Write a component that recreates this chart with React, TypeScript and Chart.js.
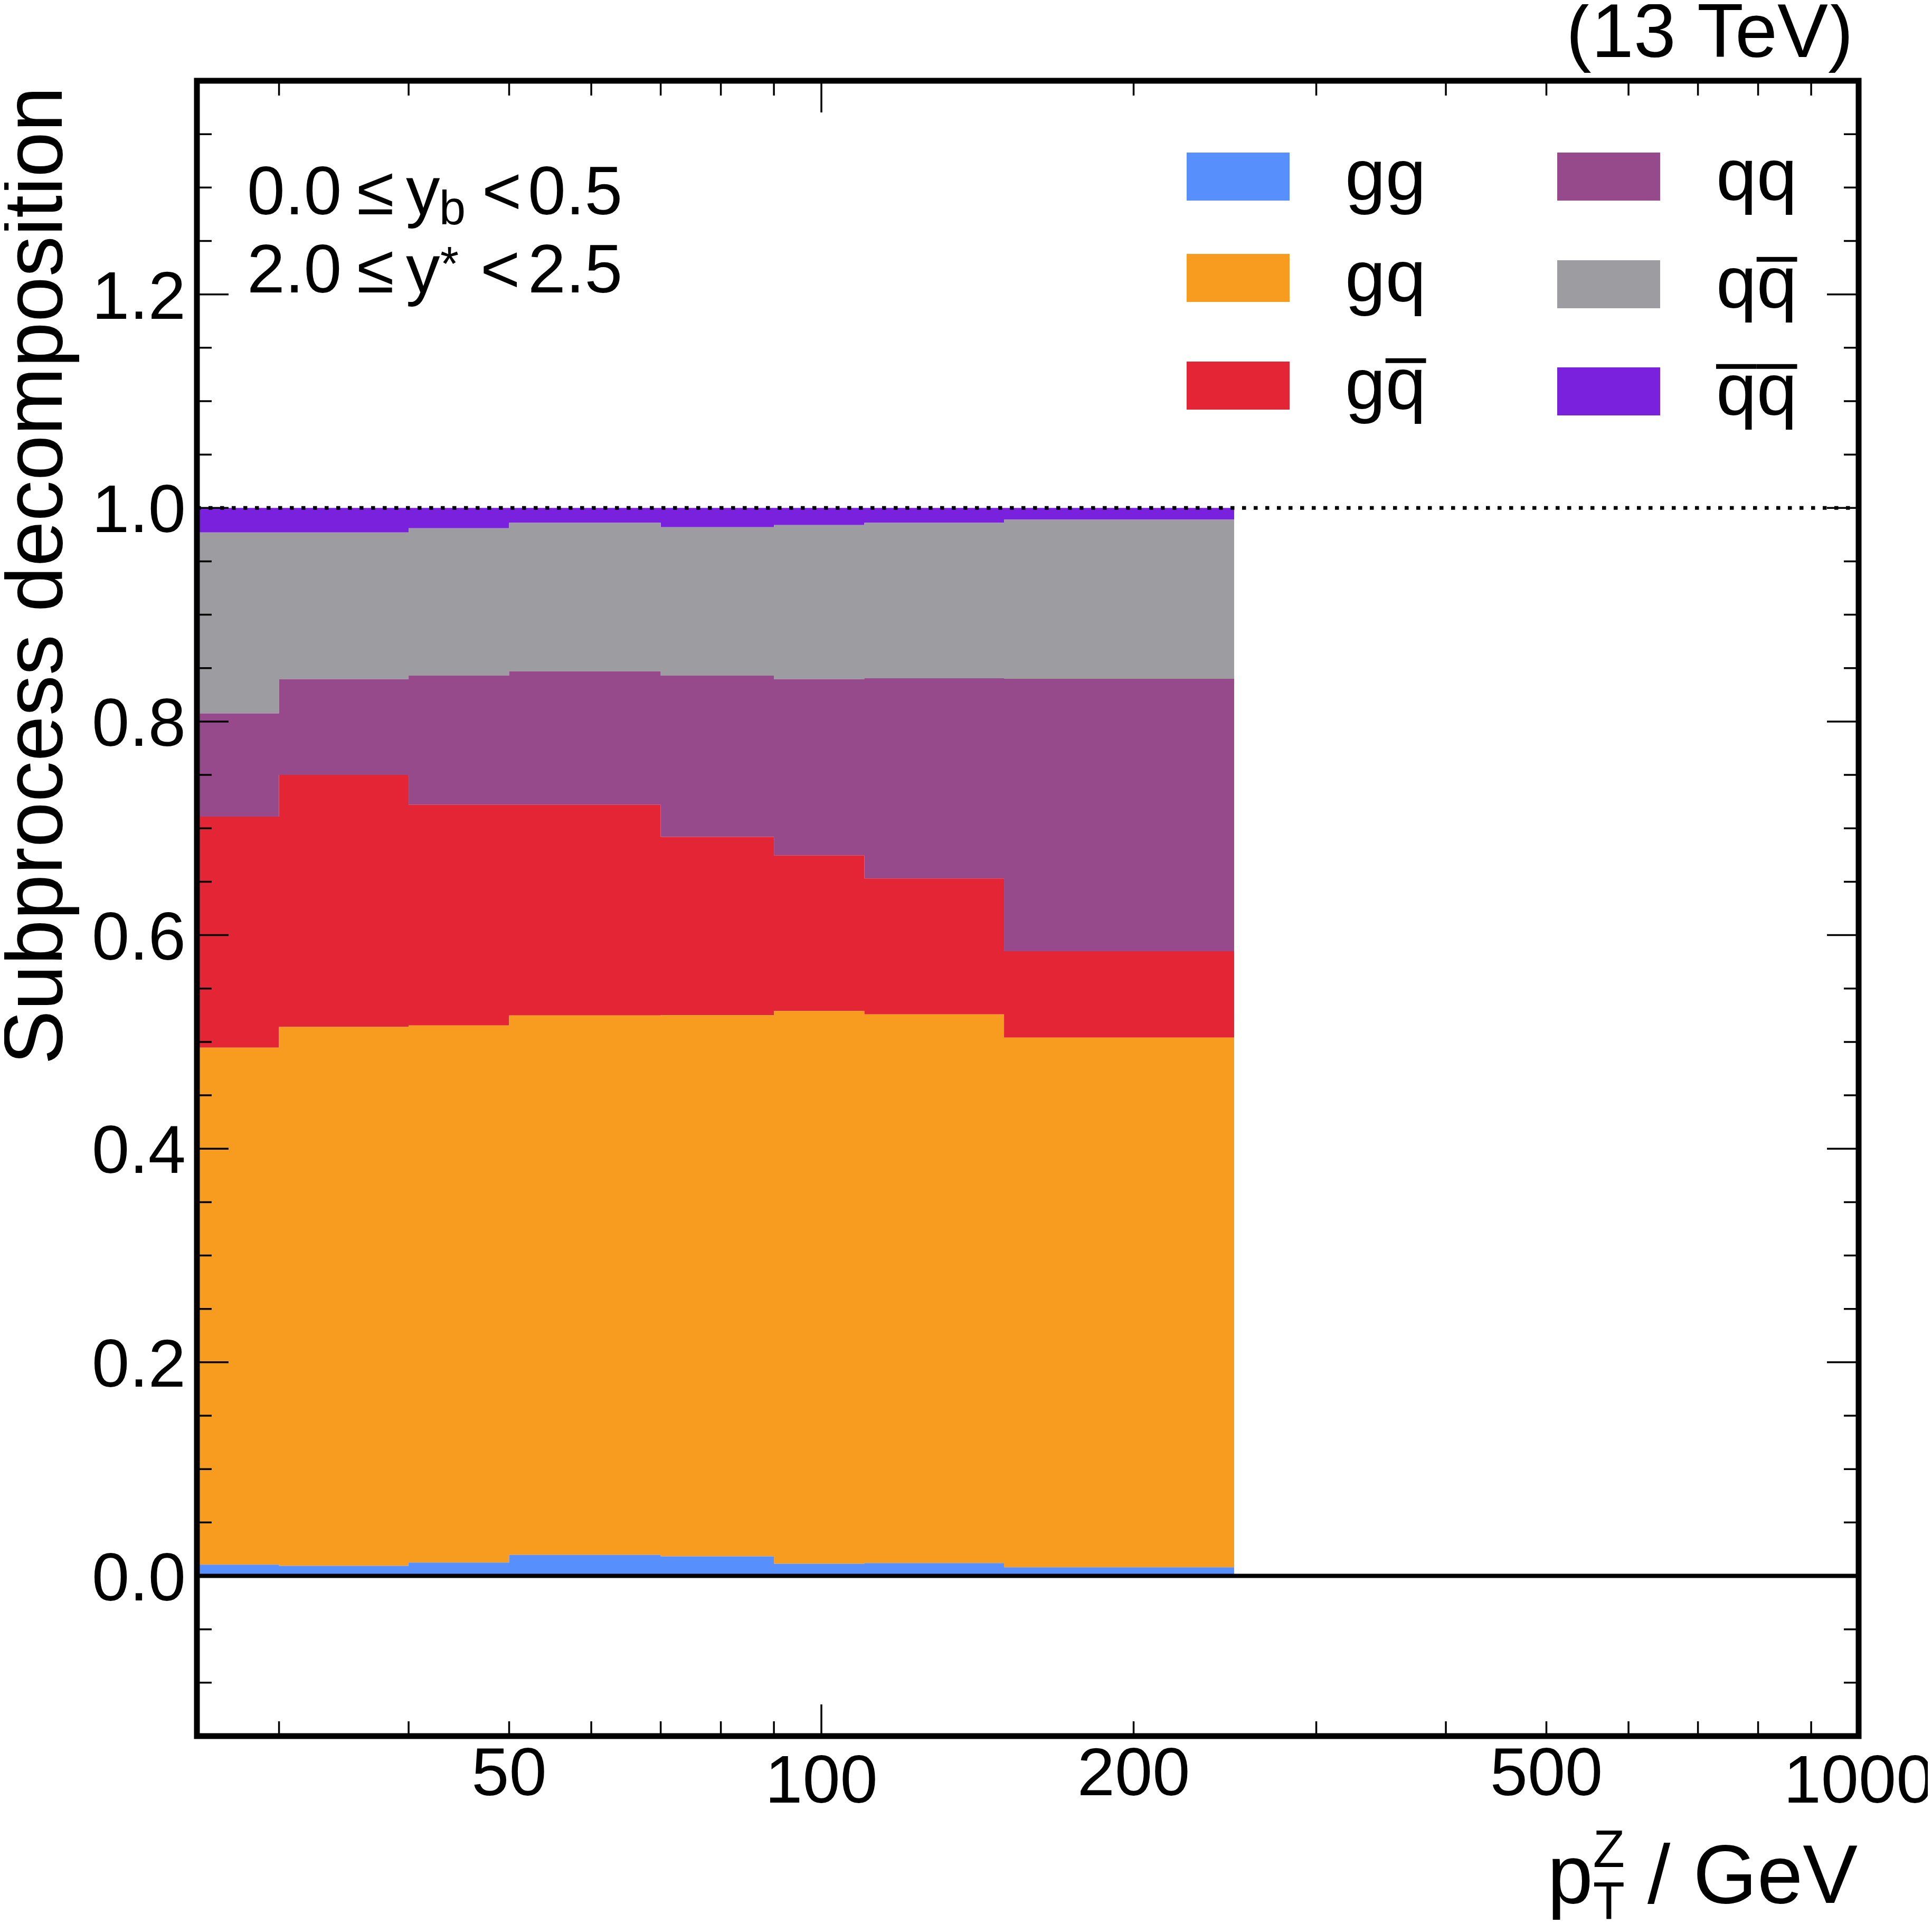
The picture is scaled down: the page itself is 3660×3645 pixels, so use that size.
import React, { useEffect, useRef } from 'react';
import { Chart, registerables } from 'chart.js';

Chart.register(...registerables);

// bin edges of p_T^Z in GeV (8 bins)
const binEdges = [25, 30, 40, 50, 70, 90, 110, 150, 250];

// subprocess fractions per bin (stacked bottom to top)
const ggValues = [0.0105, 0.0094, 0.0125, 0.0196, 0.0183, 0.0114, 0.0120, 0.0081];
const gqValues = [0.4841, 0.5046, 0.5029, 0.5052, 0.5067, 0.5176, 0.5138, 0.4959];
const gqbarValues = [0.2164, 0.2360, 0.2066, 0.1972, 0.1670, 0.1455, 0.1272, 0.0810];
const qqValues = [0.0966, 0.0895, 0.1210, 0.1250, 0.1510, 0.1650, 0.1875, 0.2550];
const qqbarValues = [0.1694, 0.1375, 0.1380, 0.1390, 0.1390, 0.1445, 0.1455, 0.1490];
const qbarqbarValues = [0.0230, 0.0230, 0.0190, 0.0140, 0.0180, 0.0160, 0.0140, 0.0110];

const seriesLabels = ['gg', 'gq', 'gq\u0305', 'qq', 'qq\u0305', 'q\u0305q\u0305'];
const seriesColors = ['#5790fc', '#f89c20', '#e42536', '#964a8b', '#9c9ca1', '#7a21dd'];

const yTickLabels = ['0.0', '0.2', '0.4', '0.6', '0.8', '1.0', '1.2'];
const xTickLabels = ['50', '100', '200', '500', '1000'];
const xMinorTicks = [30, 40, 50, 60, 70, 80, 90, 200, 300, 400, 500, 600, 700, 800, 900];
const xMajorTicks = [100, 1000];

const FONT = '"Liberation Sans", Arial, Helvetica, sans-serif';

function toSteps(values: number[]) {
    // last value repeated at the upper edge so the step closes the final bin
    return binEdges.map((edge, i) => ({ x: edge, y: values[Math.min(i, values.length - 1)] }));
}

function font(size: number) {
    return `${size}px ${FONT}`;
}

// text pieces placed at an x offset from the line start
type Piece = { text: string; size: number; at: number; dy?: number };

function drawPieces(ctx: CanvasRenderingContext2D, pieces: Piece[], x: number, y: number) {
    for (const p of pieces) {
        ctx.font = font(p.size);
        ctx.fillText(p.text, x + p.at, y + (p.dy || 0));
    }
}

function drawOverlined(ctx: CanvasRenderingContext2D, label: string, x: number, baseline: number, size: number) {
    ctx.font = font(size);
    const chars = Array.from(label);
    let cx = x;
    for (let i = 0; i < chars.length; i++) {
        const c = chars[i];
        if (c === '\u0305') continue;
        const w = ctx.measureText(c).width;
        ctx.fillText(c, cx, baseline);
        if (chars[i + 1] === '\u0305') {
            ctx.fillRect(cx, baseline - 0.69 * size, w, 9);
        }
        cx += w;
    }
}

const decorations = {
    id: 'decorations',
    afterDraw(chart: Chart) {
        const ctx = chart.ctx;
        const { left, right, top, bottom } = chart.chartArea;
        const xs = chart.scales.x;
        const ys = chart.scales.y;
        ctx.save();
        ctx.fillStyle = '#000';
        ctx.strokeStyle = '#000';

        // dotted line at unity
        const y1 = ys.getPixelForValue(1);
        ctx.setLineDash([7.5, 14.5]);
        ctx.lineWidth = 7;
        ctx.beginPath();
        ctx.moveTo(left, y1);
        ctx.lineTo(right, y1);
        ctx.stroke();
        ctx.setLineDash([]);

        // zero line
        const y0 = ys.getPixelForValue(0);
        ctx.lineWidth = 8;
        ctx.beginPath();
        ctx.moveTo(left, y0);
        ctx.lineTo(right, y0);
        ctx.stroke();

        // inward ticks on all four sides
        ctx.lineWidth = 3.5;
        ctx.beginPath();
        const xTick = (v: number, len: number) => {
            const px = xs.getPixelForValue(v);
            ctx.moveTo(px, bottom);
            ctx.lineTo(px, bottom - len);
            ctx.moveTo(px, top);
            ctx.lineTo(px, top + len);
        };
        xMinorTicks.forEach(v => xTick(v, 28));
        xMajorTicks.forEach(v => xTick(v, 60));
        for (let k = -2; k <= 27; k++) {
            const py = ys.getPixelForValue(k * 0.05);
            const len = k % 4 === 0 ? 60 : 28;
            ctx.moveTo(left, py);
            ctx.lineTo(left + len, py);
            ctx.moveTo(right, py);
            ctx.lineTo(right - len, py);
        }
        ctx.stroke();

        // frame
        ctx.lineWidth = 11;
        ctx.strokeRect(left, top, right - left, bottom - top);

        // tick labels
        ctx.font = font(128);
        ctx.textBaseline = 'alphabetic';
        ctx.textAlign = 'right';
        yTickLabels.forEach(t => {
            ctx.fillText(t, left - 21, ys.getPixelForValue(parseFloat(t)) + 46);
        });
        ctx.textAlign = 'center';
        xTickLabels.forEach(t => {
            const v = parseFloat(t);
            const decade = Math.abs(Math.log10(v) - Math.round(Math.log10(v))) < 1e-9;
            ctx.fillText(t, xs.getPixelForValue(v), bottom + (decade ? 126 : 112));
        });

        // y axis title, right aligned to the top of the frame
        ctx.save();
        ctx.translate(left - 256, top + 11);
        ctx.rotate(-Math.PI / 2);
        ctx.font = font(158);
        const yTitle = 'Subprocess decomposition';
        const sy = 1853 / ctx.measureText(yTitle).width;
        ctx.scale(sy, 1);
        ctx.textAlign = 'right';
        ctx.fillText(yTitle, 0, 0);
        ctx.restore();

        // x axis title: p_T^Z / GeV, right aligned
        ctx.textAlign = 'left';
        ctx.save();
        const xBase = bottom + 316;
        ctx.font = font(158);
        const wp = ctx.measureText('p').width;
        const wRest = ctx.measureText(' / GeV').width;
        ctx.font = font(100);
        const wSub = Math.max(ctx.measureText('T').width, ctx.measureText('Z').width);
        const total = wp + wSub + wRest;
        ctx.translate(right - 2, xBase);
        ctx.scale(0.985, 1);
        const x0 = -total;
        ctx.font = font(158);
        ctx.fillText('p', x0, 0);
        ctx.font = font(100);
        ctx.fillText('T', x0 + wp, 30);
        ctx.fillText('Z', x0 + wp, -68);
        ctx.font = font(158);
        ctx.fillText(' / GeV', x0 + wp + wSub, 0);
        ctx.restore();

        // energy label
        ctx.font = font(144);
        ctx.textAlign = 'right';
        ctx.fillText('(13 TeV)', right - 10, top - 45);

        // phase space annotation
        ctx.textAlign = 'left';
        drawPieces(ctx, [
            { text: '0.0', size: 129, at: 0 },
            { text: '\u2264', size: 129, at: 208 },
            { text: 'y', size: 129, at: 301 },
            { text: 'b', size: 90, at: 364, dy: 19 },
            { text: '<', size: 129, at: 445 },
            { text: '0.5', size: 129, at: 532 },
        ], left + 95, top + 253);
        drawPieces(ctx, [
            { text: '2.0', size: 129, at: 0 },
            { text: '\u2264', size: 129, at: 208 },
            { text: 'y', size: 129, at: 301 },
            { text: '*', size: 90, at: 366, dy: -23 },
            { text: '<', size: 129, at: 442 },
            { text: '2.5', size: 129, at: 532 },
        ], left + 95, top + 401);

        // legend, two columns of three
        const boxX = [2240, 2942];
        const textX = [2540, 3243];
        const rowTops = [[281, 473, 677], [281, 485, 688]];
        seriesLabels.forEach((label, i) => {
            const col = Math.floor(i / 3);
            const row = i % 3;
            const ty = rowTops[col][row];
            ctx.fillStyle = seriesColors[i];
            ctx.fillRect(boxX[col], ty, 195, 91);
            ctx.fillStyle = '#000';
            drawOverlined(ctx, label, textX[col], ty + 89, 138);
        });

        ctx.restore();
    },
};

export default function App() {
    const canvasRef = useRef<HTMLCanvasElement | null>(null);
    const chartRef = useRef<Chart<'line'> | null>(null);

    useEffect(() => {
        if (!canvasRef.current) return;
        if (chartRef.current) chartRef.current.destroy();

        const seriesValues = [ggValues, gqValues, gqbarValues, qqValues, qqbarValues, qbarqbarValues];

        chartRef.current = new Chart(canvasRef.current, {
            type: 'line',
            data: {
                datasets: seriesValues.map((vals, i) => ({
                    label: seriesLabels[i],
                    data: toSteps(vals),
                    stepped: true,
                    fill: i === 0 ? 'origin' : '-1',
                    backgroundColor: seriesColors[i],
                    borderColor: seriesColors[i],
                    borderWidth: 0,
                    pointRadius: 0,
                })),
            },
            options: {
                animation: false,
                responsive: true,
                maintainAspectRatio: false,
                layout: { padding: { left: 365, top: 145, right: 131, bottom: 348 } },
                scales: {
                    x: { type: 'logarithmic', min: 25, max: 1000, display: false },
                    y: { type: 'linear', min: -0.15, max: 1.4, stacked: true, display: false },
                },
                plugins: {
                    legend: { display: false },
                    tooltip: { enabled: false },
                },
            },
            plugins: [decorations],
        });

        return () => {
            if (chartRef.current) {
                chartRef.current.destroy();
                chartRef.current = null;
            }
        };
    }, []);

    return (
        <div style={{ width: '3644px', height: '3629px', position: 'relative' }}>
            <canvas ref={canvasRef}></canvas>
        </div>
    );
}
